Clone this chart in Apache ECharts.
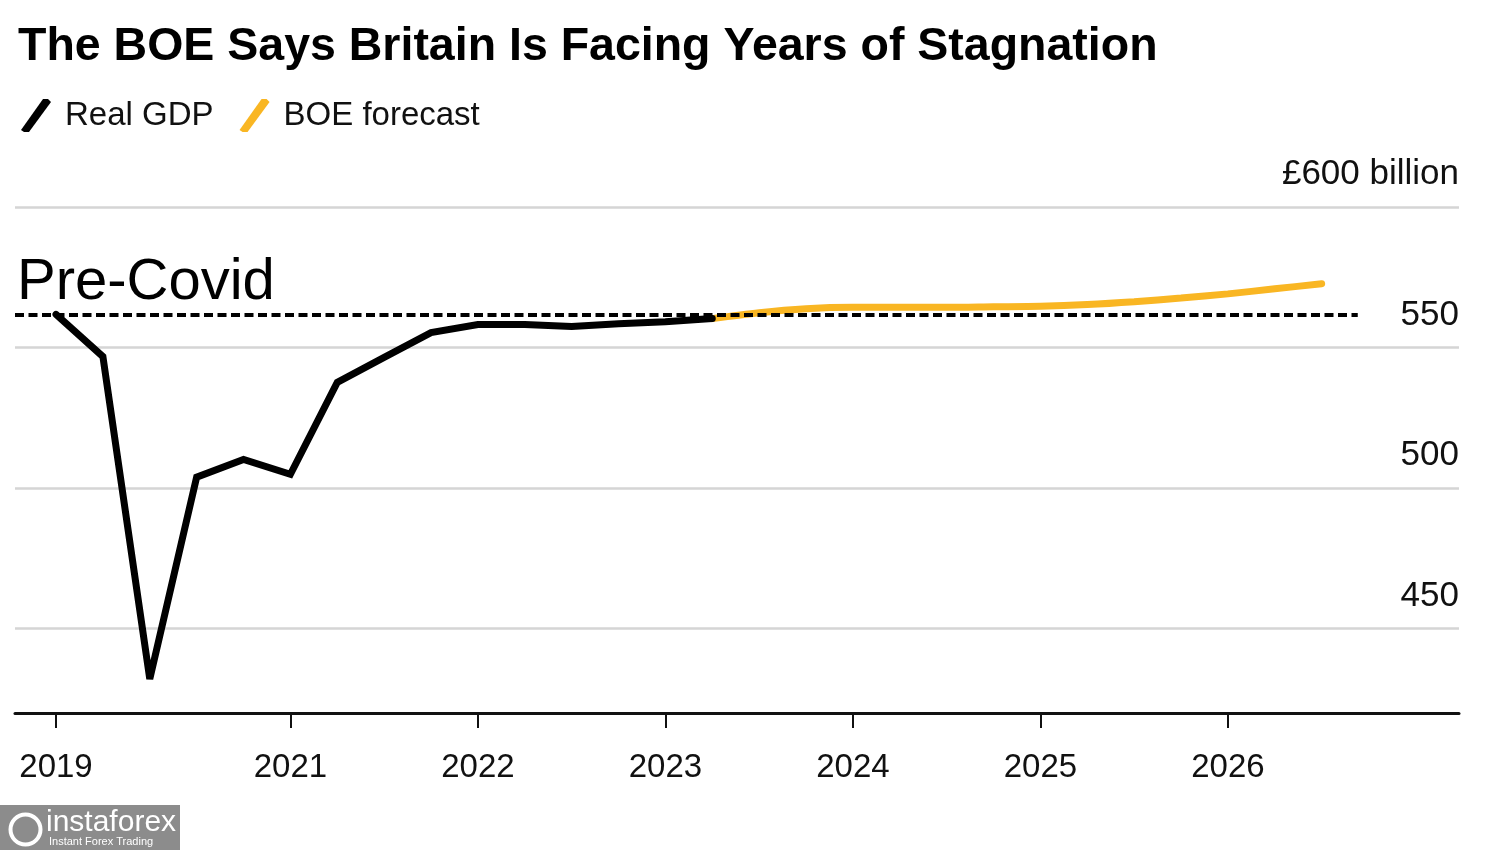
<!DOCTYPE html>
<html>
<head>
<meta charset="utf-8">
<script src="https://cdn.jsdelivr.net/npm/echarts@6/dist/echarts.min.js"></script>
<style>
html,body{margin:0;padding:0;background:#fff;}
#chart{width:1500px;height:850px;}
</style>
</head>
<body>
<div id="chart"></div>
<script>
// ---- Data ----
const quarters = [
  '2019Q4',
  '2020Q1','2020Q2','2020Q3','2020Q4',
  '2021Q1','2021Q2','2021Q3','2021Q4',
  '2022Q1','2022Q2','2022Q3','2022Q4',
  '2023Q1','2023Q2','2023Q3','2023Q4',
  '2024Q1','2024Q2','2024Q3','2024Q4',
  '2025Q1','2025Q2','2025Q3','2025Q4',
  '2026Q1','2026Q2','2026Q3'
];
// Real GDP, £ billion (2019Q4 .. 2023Q2)
const realGdp = [561.8, 546.8, 432.1, 503.9, 510.2, 504.9, 537.6, 546.5, 555.3, 558.2, 558.2, 557.5, 558.5, 559.2, 560.3];
// BOE forecast, £ billion (2023Q2 .. 2026Q3)
const forecastStart = '2023Q2';
const boeForecast = [560.3, 562.4, 563.8, 564.3, 564.3, 564.3, 564.5, 564.7, 565.3, 566.3, 567.6, 569.1, 570.9, 572.7];
const preCovidLevel = [561.8];
const xTickQuarters = ['2019Q4','2021Q1','2022Q1','2023Q1','2024Q1','2025Q1','2026Q1'];
const xTickLabels = ['2019','2021','2022','2023','2024','2025','2026'];
const yTicks = [450, 500, 550, 600];
const yTickLabels = ['450', '500', '550', '£600 billion'];

// ---- Build ----
const FONT = "'Liberation Sans', Arial, Helvetica, sans-serif";
const xTickIdx = xTickQuarters.map(q => quarters.indexOf(q));
const gdpData = realGdp.map((v, i) => [i, v]);
const f0 = quarters.indexOf(forecastStart);
const fcData = boeForecast.map((v, i) => [f0 + i, v]);
const xMin = -0.875, xMax = 29.93;
const lastIdx = quarters.length - 1;

const slash = 'path://M0,31 L3,33 L8,33 L30,3 L27,0 L22,0 Z';

const chart = echarts.init(document.getElementById('chart'));
chart.setOption({
  animation: false,
  backgroundColor: '#fff',
  textStyle: { fontFamily: FONT },
  title: {
    text: 'The BOE Says Britain Is Facing Years of Stagnation',
    left: 13, top: 19,
    textStyle: { fontSize: 46.5, fontWeight: 'bold', color: '#000', fontFamily: FONT }
  },
  legend: {
    left: 16, top: 94,
    itemWidth: 30, itemHeight: 33, itemGap: 26,
    textStyle: { fontSize: 33, color: '#111', fontFamily: FONT, padding: [0, 0, 0, 9] },
    data: [
      { name: 'Real GDP', icon: slash },
      { name: 'BOE forecast', icon: slash }
    ]
  },
  grid: { left: 15, right: 41, top: 207, bottom: 137, containLabel: false },
  xAxis: {
    type: 'value', min: xMin, max: xMax,
    axisLine: { show: true, lineStyle: { color: '#111', width: 3 } },
    axisTick: { show: true, customValues: xTickIdx, length: 15, lineStyle: { color: '#111', width: 2 } },
    axisLabel: {
      customValues: xTickIdx, fontSize: 33, color: '#111', margin: 38, fontFamily: FONT,
      formatter: v => xTickLabels[xTickIdx.indexOf(v)]
    },
    splitLine: { show: false }
  },
  yAxis: {
    type: 'value', position: 'right', min: 420, max: 600,
    axisLine: { show: false },
    axisTick: { show: false, customValues: yTicks },
    splitLine: { show: true, lineStyle: { color: '#d5d5d5', width: 2.5 } },
    axisLabel: {
      customValues: yTicks, inside: true, margin: 0, fontSize: 35, color: '#111', fontFamily: FONT,
      verticalAlign: 'bottom', padding: [0, 0, 15, 0],
      formatter: v => yTickLabels[yTicks.indexOf(v)]
    }
  },
  series: [
    {
      name: 'BOE forecast', type: 'line', data: fcData, showSymbol: false, smooth: 0.3,
      z: 3,
      itemStyle: { color: '#F9B623' },
      lineStyle: { color: '#F9B623', width: 7, cap: 'round' }
    },
    {
      name: 'Real GDP', type: 'line', data: gdpData, showSymbol: false,
      z: 4,
      itemStyle: { color: '#000' },
      lineStyle: { color: '#000', width: 7, cap: 'round', join: 'miter', miterLimit: 3 },
      markLine: {
        silent: true, symbol: ['none', 'none'],
        lineStyle: { color: '#000', type: [9, 4.5], width: 4 },
        label: {
          show: true, position: 'insideStartTop', formatter: 'Pre-Covid',
          fontSize: 58, color: '#000', fontFamily: FONT, distance: [2, 2]
        },
        data: [[
          { coord: [xMin, preCovidLevel[0]] },
          { coord: [lastIdx + 0.77, preCovidLevel[0]] }
        ]]
      }
    }
  ],
  graphic: [
    { type: 'rect', left: 0, top: 805, shape: { width: 180, height: 45 }, style: { fill: '#8c8c8c' } },
    { type: 'text', left: 46, top: 808, style: { text: 'instaforex', fill: '#fff', font: "30px " + FONT } },
    { type: 'text', left: 49, top: 836, style: { text: 'Instant Forex Trading', fill: '#fff', font: "11px " + FONT } },
    { type: 'circle', left: 8, top: 812, shape: { r: 15 }, style: { fill: 'none', stroke: '#fff', lineWidth: 4 } }
  ]
});
</script>
</body>
</html>
